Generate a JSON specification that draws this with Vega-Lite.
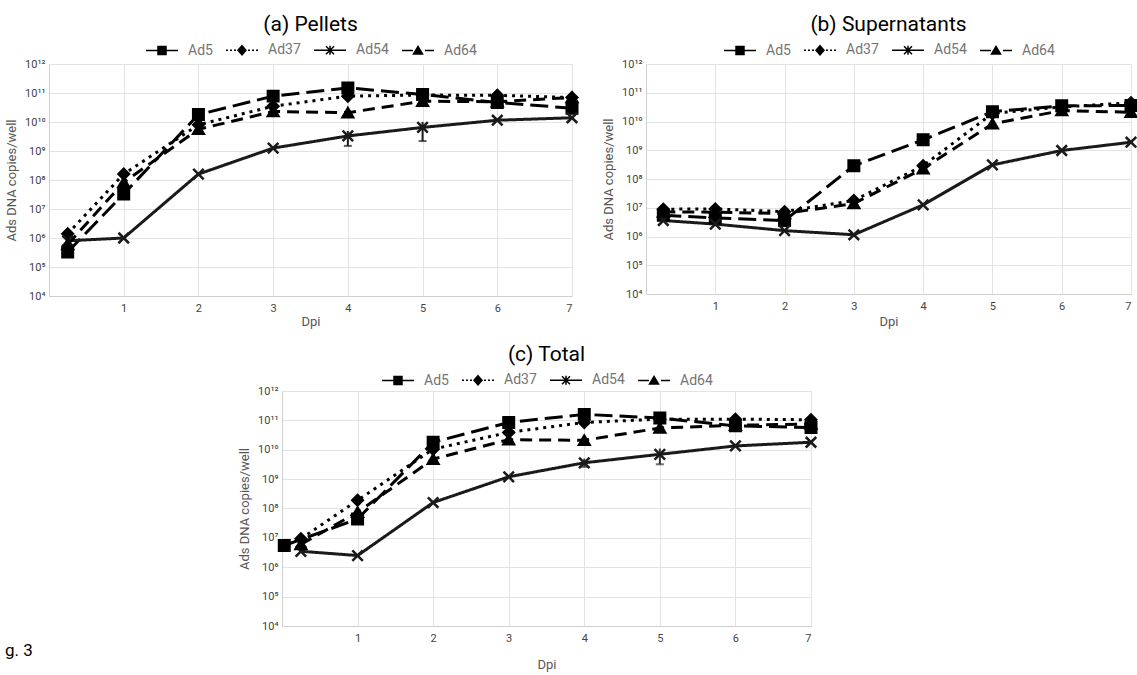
{
  "$schema": "https://vega.github.io/schema/vega-lite/v6.json",
  "padding": {"left": 5, "top": 14, "right": 5, "bottom": 2},
  "config": {
    "font": "Roboto",
    "view": {"stroke": null},
    "axis": {"ticks": false, "gridColor": "#e3e3e3", "domainColor": "#d0d0d0", "labelColor": "#444444", "labelFontSize": 11, "titleColor": "#555555", "titleFontSize": 13, "titleFontWeight": "normal"},
    "title": {"fontSize": 21, "fontWeight": "normal", "color": "#000000", "frame": "group", "offset": 8},
    "legend": {"layout": {"top": {"anchor": "middle"}}}
  },
  "datasets": {
    "pellets": [
      {"series": "Ad5", "dpi": 0.25, "copies": 330000}, {"series": "Ad5", "dpi": 1, "copies": 33000000}, {"series": "Ad5", "dpi": 2, "copies": 18000000000}, {"series": "Ad5", "dpi": 3, "copies": 78000000000}, {"series": "Ad5", "dpi": 4, "copies": 150000000000}, {"series": "Ad5", "dpi": 5, "copies": 89000000000}, {"series": "Ad5", "dpi": 6, "copies": 47000000000}, {"series": "Ad5", "dpi": 7, "copies": 30000000000},
      {"series": "Ad37", "dpi": 0.25, "copies": 1400000}, {"series": "Ad37", "dpi": 1, "copies": 160000000}, {"series": "Ad37", "dpi": 2, "copies": 8000000000}, {"series": "Ad37", "dpi": 3, "copies": 35000000000}, {"series": "Ad37", "dpi": 4, "copies": 78000000000}, {"series": "Ad37", "dpi": 5, "copies": 85000000000}, {"series": "Ad37", "dpi": 6, "copies": 83000000000}, {"series": "Ad37", "dpi": 7, "copies": 70000000000},
      {"series": "Ad54", "dpi": 0.25, "copies": 800000}, {"series": "Ad54", "dpi": 1, "copies": 1000000}, {"series": "Ad54", "dpi": 2, "copies": 160000000}, {"series": "Ad54", "dpi": 3, "copies": 1260000000}, {"series": "Ad54", "dpi": 4, "copies": 3300000000}, {"series": "Ad54", "dpi": 5, "copies": 6500000000}, {"series": "Ad54", "dpi": 6, "copies": 11500000000}, {"series": "Ad54", "dpi": 7, "copies": 14000000000},
      {"series": "Ad64", "dpi": 0.25, "copies": 600000}, {"series": "Ad64", "dpi": 1, "copies": 83000000}, {"series": "Ad64", "dpi": 2, "copies": 5600000000}, {"series": "Ad64", "dpi": 3, "copies": 23000000000}, {"series": "Ad64", "dpi": 4, "copies": 21000000000}, {"series": "Ad64", "dpi": 5, "copies": 52000000000}, {"series": "Ad64", "dpi": 6, "copies": 50000000000}, {"series": "Ad64", "dpi": 7, "copies": 70000000000}
    ],
    "supernatants": [
      {"series": "Ad5", "dpi": 0.25, "copies": 5500000}, {"series": "Ad5", "dpi": 1, "copies": 4400000}, {"series": "Ad5", "dpi": 2, "copies": 3600000}, {"series": "Ad5", "dpi": 3, "copies": 290000000}, {"series": "Ad5", "dpi": 4, "copies": 2300000000}, {"series": "Ad5", "dpi": 5, "copies": 22000000000}, {"series": "Ad5", "dpi": 6, "copies": 35000000000}, {"series": "Ad5", "dpi": 7, "copies": 36000000000},
      {"series": "Ad37", "dpi": 0.25, "copies": 8900000}, {"series": "Ad37", "dpi": 1, "copies": 9100000}, {"series": "Ad37", "dpi": 2, "copies": 7300000}, {"series": "Ad37", "dpi": 3, "copies": 18000000}, {"series": "Ad37", "dpi": 4, "copies": 290000000}, {"series": "Ad37", "dpi": 5, "copies": 19000000000}, {"series": "Ad37", "dpi": 6, "copies": 32000000000}, {"series": "Ad37", "dpi": 7, "copies": 45000000000},
      {"series": "Ad54", "dpi": 0.25, "copies": 3600000}, {"series": "Ad54", "dpi": 1, "copies": 2700000}, {"series": "Ad54", "dpi": 2, "copies": 1600000}, {"series": "Ad54", "dpi": 3, "copies": 1150000}, {"series": "Ad54", "dpi": 4, "copies": 12600000}, {"series": "Ad54", "dpi": 5, "copies": 310000000}, {"series": "Ad54", "dpi": 6, "copies": 980000000}, {"series": "Ad54", "dpi": 7, "copies": 1900000000},
      {"series": "Ad64", "dpi": 0.25, "copies": 7200000}, {"series": "Ad64", "dpi": 1, "copies": 7000000}, {"series": "Ad64", "dpi": 2, "copies": 6300000}, {"series": "Ad64", "dpi": 3, "copies": 14000000}, {"series": "Ad64", "dpi": 4, "copies": 230000000}, {"series": "Ad64", "dpi": 5, "copies": 8300000000}, {"series": "Ad64", "dpi": 6, "copies": 24000000000}, {"series": "Ad64", "dpi": 7, "copies": 21000000000}
    ],
    "total": [
      {"series": "Ad5", "dpi": 0.03, "copies": 5500000}, {"series": "Ad5", "dpi": 1, "copies": 44000000}, {"series": "Ad5", "dpi": 2, "copies": 18000000000}, {"series": "Ad5", "dpi": 3, "copies": 85000000000}, {"series": "Ad5", "dpi": 4, "copies": 160000000000}, {"series": "Ad5", "dpi": 5, "copies": 120000000000}, {"series": "Ad5", "dpi": 6, "copies": 65000000000}, {"series": "Ad5", "dpi": 7, "copies": 57000000000},
      {"series": "Ad37", "dpi": 0.25, "copies": 9300000}, {"series": "Ad37", "dpi": 1, "copies": 190000000}, {"series": "Ad37", "dpi": 2, "copies": 10500000000}, {"series": "Ad37", "dpi": 3, "copies": 39000000000}, {"series": "Ad37", "dpi": 4, "copies": 85000000000}, {"series": "Ad37", "dpi": 5, "copies": 110000000000}, {"series": "Ad37", "dpi": 6, "copies": 110000000000}, {"series": "Ad37", "dpi": 7, "copies": 105000000000},
      {"series": "Ad54", "dpi": 0.25, "copies": 3500000}, {"series": "Ad54", "dpi": 1, "copies": 2500000}, {"series": "Ad54", "dpi": 2, "copies": 160000000}, {"series": "Ad54", "dpi": 3, "copies": 1200000000}, {"series": "Ad54", "dpi": 4, "copies": 3600000000}, {"series": "Ad54", "dpi": 5, "copies": 7000000000}, {"series": "Ad54", "dpi": 6, "copies": 13500000000}, {"series": "Ad54", "dpi": 7, "copies": 18000000000},
      {"series": "Ad64", "dpi": 0.25, "copies": 6000000}, {"series": "Ad64", "dpi": 1, "copies": 75000000}, {"series": "Ad64", "dpi": 2, "copies": 4800000000}, {"series": "Ad64", "dpi": 3, "copies": 22000000000}, {"series": "Ad64", "dpi": 4, "copies": 21000000000}, {"series": "Ad64", "dpi": 5, "copies": 55000000000}, {"series": "Ad64", "dpi": 6, "copies": 68000000000}, {"series": "Ad64", "dpi": 7, "copies": 75000000000}
    ],
    "errs": [
      {"panel": "a", "series": "Ad54", "dpi": 4, "lo": 1500000000, "hi": 4900000000},
      {"panel": "a", "series": "Ad54", "dpi": 5, "lo": 2200000000, "hi": 10000000000},
      {"panel": "c", "series": "Ad54", "dpi": 4, "lo": 2600000000, "hi": 5000000000},
      {"panel": "c", "series": "Ad54", "dpi": 5, "lo": 3200000000, "hi": 11000000000}
    ]
  },
  "resolve": {"scale": {"shape": "independent"}, "legend": {"shape": "independent"}},
  "spacing": 16,
  "vconcat": [
    {
      "resolve": {"scale": {"shape": "independent"}, "legend": {"shape": "independent"}},
      "spacing": 19,
      "hconcat": [
        {
          "width": 523, "height": 232,
          "title": {"text": "(a) Pellets"},
          "data": {"name": "pellets"},
          "resolve": {"scale": {"shape": "independent"}},
          "layer": [
            {
              "mark": {"type": "line", "strokeWidth": 3},
              "encoding": {
                "x": {"field": "dpi", "type": "quantitative", "scale": {"domain": [0, 7], "nice": false, "zero": false}, "axis": {"values": [1, 2, 3, 4, 5, 6, 7], "format": "d", "title": "Dpi", "labelPadding": 6, "titlePadding": 2}},
                "y": {"field": "copies", "type": "quantitative", "scale": {"type": "log", "domain": [10000, 1000000000000], "nice": false}, "axis": {"values": [10000, 100000, 1000000, 10000000, 100000000, 1000000000, 10000000000, 100000000000, 1000000000000], "labelExpr": "'10' + ['⁰','¹','²','³','⁴','⁵','⁶','⁷','⁸','⁹','¹⁰','¹¹','¹²'][round(log(datum.value)/LN10)]", "title": "Ads DNA  copies/well", "labelPadding": 4, "titlePadding": 6}},
                "strokeDash": {"field": "series", "type": "nominal", "scale": {"domain": ["Ad5", "Ad37", "Ad54", "Ad64"], "range": [[18, 7], [3, 5], [1, 0], [12, 7]]}, "legend": null},
                "color": {"field": "series", "type": "nominal", "scale": {"domain": ["Ad5", "Ad37", "Ad54", "Ad64"], "range": ["#000000", "#000000", "#1a1a1a", "#000000"]}, "legend": null}
              }
            },
            {
              "data": {"name": "errs"},
              "transform": [{"filter": "datum.panel == 'a'"}],
              "mark": {"type": "rule", "strokeWidth": 2, "color": "#1a1a1a"},
              "encoding": {"x": {"field": "dpi", "type": "quantitative"}, "y": {"field": "lo", "type": "quantitative"}, "y2": {"field": "hi"}}
            },
            {
              "data": {"name": "errs"},
              "transform": [{"filter": "datum.panel == 'a'"}],
              "mark": {"type": "tick", "orient": "horizontal", "size": 8, "thickness": 2, "color": "#1a1a1a"},
              "encoding": {"x": {"field": "dpi", "type": "quantitative"}, "y": {"field": "lo", "type": "quantitative"}}
            },
            {
              "mark": {"type": "point", "filled": true, "size": 110, "strokeWidth": 2.5, "opacity": 1},
              "encoding": {
                "x": {"field": "dpi", "type": "quantitative"},
                "y": {"field": "copies", "type": "quantitative"},
                "shape": {"field": "series", "type": "nominal", "scale": {"domain": ["Ad5", "Ad37", "Ad54", "Ad64"], "range": ["square", "diamond", "M-1,-1L1,1M-1,1L1,-1", "triangle-up"]}, "legend": null},
                "fill": {"field": "series", "type": "nominal", "scale": {"domain": ["Ad5", "Ad37", "Ad54", "Ad64"], "range": ["#000000", "#000000", "#1a1a1a", "#000000"]}, "legend": null},
                "stroke": {"field": "series", "type": "nominal", "scale": {"domain": ["Ad5", "Ad37", "Ad54", "Ad64"], "range": ["#000000", "#000000", "#1a1a1a", "#000000"]}, "legend": null}
              }
            },
            {
              "transform": [{"filter": "false"}],
              "mark": {"type": "point", "fill": "#000000", "stroke": "#000000", "strokeWidth": 2.5, "opacity": 1},
              "encoding": {
                "x": {"field": "dpi", "type": "quantitative"},
                "y": {"field": "copies", "type": "quantitative"},
                "shape": {"field": "series", "type": "nominal", "scale": {"domain": ["Ad5", "Ad37", "Ad54", "Ad64"], "range": ["M-1,0H5.4M1.4,-0.8H3V0.8H1.4Z", "M-1,0H-0.6M-0.2,0H0.2M0.6,0H1M3.4,0H3.8M4.2,0H4.6M5,0H5.4M2.2,-0.9L3,0L2.2,0.9L1.4,0Z", "M-1,0H5.4M1.4,-0.8L3,0.8M1.4,0.8L3,-0.8M2.2,-0.9V0.9", "M-1,0H1.2M2.2,-0.8L3.1,0.7H1.3Z M3.6,0H5.4"]}, "legend": {"orient": "top", "direction": "horizontal", "title": null, "labelFontSize": 14, "labelColor": "#757575", "labelOffset": 30, "columnPadding": 10, "symbolSize": 100, "offset": 6, "encode": {"symbols": {"update": {"fill": {"value": "#000000"}, "stroke": {"value": "#000000"}, "strokeWidth": {"value": 2.5}, "opacity": {"value": 1}}}}}}
              }
            }
          ]
        },
        {
          "width": 485, "height": 230,
          "title": {"text": "(b) Supernatants"},
          "data": {"name": "supernatants"},
          "resolve": {"scale": {"shape": "independent"}},
          "layer": [
            {
              "mark": {"type": "line", "strokeWidth": 3},
              "encoding": {
                "x": {"field": "dpi", "type": "quantitative", "scale": {"domain": [0, 7], "nice": false, "zero": false}, "axis": {"values": [1, 2, 3, 4, 5, 6, 7], "format": "d", "title": "Dpi", "labelPadding": 6, "titlePadding": 4}},
                "y": {"field": "copies", "type": "quantitative", "scale": {"type": "log", "domain": [10000, 1000000000000], "nice": false}, "axis": {"values": [10000, 100000, 1000000, 10000000, 100000000, 1000000000, 10000000000, 100000000000, 1000000000000], "labelExpr": "'10' + ['⁰','¹','²','³','⁴','⁵','⁶','⁷','⁸','⁹','¹⁰','¹¹','¹²'][round(log(datum.value)/LN10)]", "title": "Ads DNA  copies/well", "labelPadding": 4, "titlePadding": 6}},
                "strokeDash": {"field": "series", "type": "nominal", "scale": {"domain": ["Ad5", "Ad37", "Ad54", "Ad64"], "range": [[18, 7], [3, 5], [1, 0], [12, 7]]}, "legend": null},
                "color": {"field": "series", "type": "nominal", "scale": {"domain": ["Ad5", "Ad37", "Ad54", "Ad64"], "range": ["#000000", "#000000", "#333333", "#000000"]}, "legend": null}
              }
            },
            {
              "mark": {"type": "point", "filled": true, "size": 110, "strokeWidth": 2.5, "opacity": 1},
              "encoding": {
                "x": {"field": "dpi", "type": "quantitative"},
                "y": {"field": "copies", "type": "quantitative"},
                "shape": {"field": "series", "type": "nominal", "scale": {"domain": ["Ad5", "Ad37", "Ad54", "Ad64"], "range": ["square", "diamond", "M-1,-1L1,1M-1,1L1,-1", "triangle-up"]}, "legend": null},
                "fill": {"field": "series", "type": "nominal", "scale": {"domain": ["Ad5", "Ad37", "Ad54", "Ad64"], "range": ["#000000", "#000000", "#333333", "#000000"]}, "legend": null},
                "stroke": {"field": "series", "type": "nominal", "scale": {"domain": ["Ad5", "Ad37", "Ad54", "Ad64"], "range": ["#000000", "#000000", "#333333", "#000000"]}, "legend": null}
              }
            },
            {
              "transform": [{"filter": "false"}],
              "mark": {"type": "point", "fill": "#000000", "stroke": "#000000", "strokeWidth": 2.5, "opacity": 1},
              "encoding": {
                "x": {"field": "dpi", "type": "quantitative"},
                "y": {"field": "copies", "type": "quantitative"},
                "shape": {"field": "series", "type": "nominal", "scale": {"domain": ["Ad5", "Ad37", "Ad54", "Ad64"], "range": ["M-1,0H5.4M1.4,-0.8H3V0.8H1.4Z", "M-1,0H-0.6M-0.2,0H0.2M0.6,0H1M3.4,0H3.8M4.2,0H4.6M5,0H5.4M2.2,-0.9L3,0L2.2,0.9L1.4,0Z", "M-1,0H5.4M1.4,-0.8L3,0.8M1.4,0.8L3,-0.8M2.2,-0.9V0.9", "M-1,0H1.2M2.2,-0.8L3.1,0.7H1.3Z M3.6,0H5.4"]}, "legend": {"orient": "top", "direction": "horizontal", "title": null, "labelFontSize": 14, "labelColor": "#757575", "labelOffset": 30, "columnPadding": 10, "symbolSize": 100, "offset": 6, "encode": {"symbols": {"update": {"fill": {"value": "#000000"}, "stroke": {"value": "#000000"}, "strokeWidth": {"value": 2.5}, "opacity": {"value": 1}}}}}}
              }
            }
          ]
        }
      ]
    },
    {
      "resolve": {"scale": {"shape": "independent"}, "legend": {"shape": "independent"}},
      "spacing": 20,
      "hconcat": [
        {
          "width": 169, "height": 243,
          "title": {"text": "g. 3", "orient": "bottom", "anchor": "start", "dx": -44, "fontSize": 17, "offset": 9},
          "data": {"values": [{}]},
          "mark": {"type": "point", "opacity": 0}
        },
        {
          "width": 529, "height": 235,
          "title": {"text": "(c) Total"},
          "data": {"name": "total"},
          "resolve": {"scale": {"shape": "independent"}},
          "layer": [
            {
              "mark": {"type": "line", "strokeWidth": 3},
              "encoding": {
                "x": {"field": "dpi", "type": "quantitative", "scale": {"domain": [0, 7], "nice": false, "zero": false}, "axis": {"values": [1, 2, 3, 4, 5, 6, 7], "format": "d", "title": "Dpi", "labelPadding": 6, "titlePadding": 15}},
                "y": {"field": "copies", "type": "quantitative", "scale": {"type": "log", "domain": [10000, 1000000000000], "nice": false}, "axis": {"values": [10000, 100000, 1000000, 10000000, 100000000, 1000000000, 10000000000, 100000000000, 1000000000000], "labelExpr": "'10' + ['⁰','¹','²','³','⁴','⁵','⁶','⁷','⁸','⁹','¹⁰','¹¹','¹²'][round(log(datum.value)/LN10)]", "title": "Ads DNA  copies/well", "labelPadding": 4, "titlePadding": 6}},
                "strokeDash": {"field": "series", "type": "nominal", "scale": {"domain": ["Ad5", "Ad37", "Ad54", "Ad64"], "range": [[18, 7], [3, 5], [1, 0], [12, 7]]}, "legend": null},
                "color": {"field": "series", "type": "nominal", "scale": {"domain": ["Ad5", "Ad37", "Ad54", "Ad64"], "range": ["#000000", "#000000", "#333333", "#000000"]}, "legend": null}
              }
            },
            {
              "data": {"name": "errs"},
              "transform": [{"filter": "datum.panel == 'c'"}],
              "mark": {"type": "rule", "strokeWidth": 2, "color": "#333333"},
              "encoding": {"x": {"field": "dpi", "type": "quantitative"}, "y": {"field": "lo", "type": "quantitative"}, "y2": {"field": "hi"}}
            },
            {
              "data": {"name": "errs"},
              "transform": [{"filter": "datum.panel == 'c'"}],
              "mark": {"type": "tick", "orient": "horizontal", "size": 8, "thickness": 2, "color": "#333333"},
              "encoding": {"x": {"field": "dpi", "type": "quantitative"}, "y": {"field": "lo", "type": "quantitative"}}
            },
            {
              "mark": {"type": "point", "filled": true, "size": 110, "strokeWidth": 2.5, "opacity": 1},
              "encoding": {
                "x": {"field": "dpi", "type": "quantitative"},
                "y": {"field": "copies", "type": "quantitative"},
                "shape": {"field": "series", "type": "nominal", "scale": {"domain": ["Ad5", "Ad37", "Ad54", "Ad64"], "range": ["square", "diamond", "M-1,-1L1,1M-1,1L1,-1", "triangle-up"]}, "legend": null},
                "fill": {"field": "series", "type": "nominal", "scale": {"domain": ["Ad5", "Ad37", "Ad54", "Ad64"], "range": ["#000000", "#000000", "#333333", "#000000"]}, "legend": null},
                "stroke": {"field": "series", "type": "nominal", "scale": {"domain": ["Ad5", "Ad37", "Ad54", "Ad64"], "range": ["#000000", "#000000", "#333333", "#000000"]}, "legend": null}
              }
            },
            {
              "transform": [{"filter": "false"}],
              "mark": {"type": "point", "fill": "#000000", "stroke": "#000000", "strokeWidth": 2.5, "opacity": 1},
              "encoding": {
                "x": {"field": "dpi", "type": "quantitative"},
                "y": {"field": "copies", "type": "quantitative"},
                "shape": {"field": "series", "type": "nominal", "scale": {"domain": ["Ad5", "Ad37", "Ad54", "Ad64"], "range": ["M-1,0H5.4M1.4,-0.8H3V0.8H1.4Z", "M-1,0H-0.6M-0.2,0H0.2M0.6,0H1M3.4,0H3.8M4.2,0H4.6M5,0H5.4M2.2,-0.9L3,0L2.2,0.9L1.4,0Z", "M-1,0H5.4M1.4,-0.8L3,0.8M1.4,0.8L3,-0.8M2.2,-0.9V0.9", "M-1,0H1.2M2.2,-0.8L3.1,0.7H1.3Z M3.6,0H5.4"]}, "legend": {"orient": "top", "direction": "horizontal", "title": null, "labelFontSize": 14, "labelColor": "#757575", "labelOffset": 30, "columnPadding": 10, "symbolSize": 100, "offset": 3, "encode": {"symbols": {"update": {"fill": {"value": "#000000"}, "stroke": {"value": "#000000"}, "strokeWidth": {"value": 2.5}, "opacity": {"value": 1}}}}}}
              }
            }
          ]
        }
      ]
    }
  ]
}
